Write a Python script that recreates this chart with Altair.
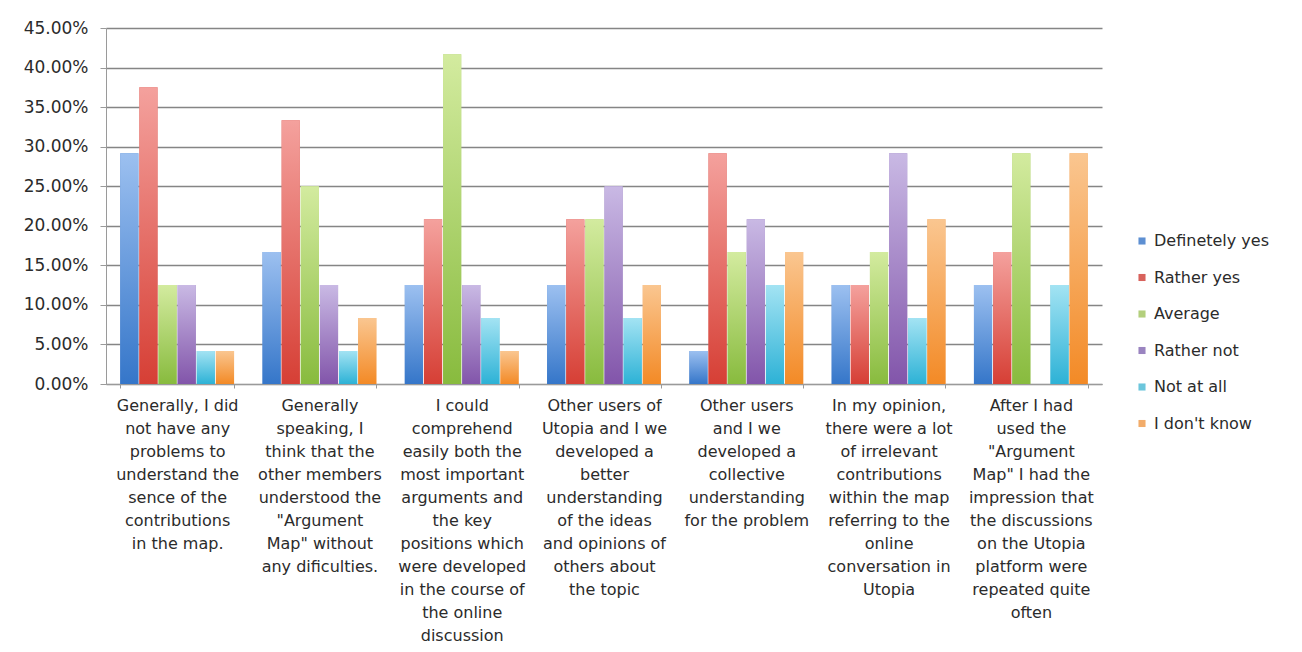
import altair as alt
import pandas as pd

categories = [
    "Generally, I did\nnot have any\nproblems to\nunderstand the\nsence of the\ncontributions\nin the map.",
    "Generally\nspeaking, I\nthink that the\nother members\nunderstood the\n\"Argument\nMap\" without\nany dificulties.",
    "I could\ncomprehend\neasily both the\nmost important\narguments and\nthe key\npositions which\nwere developed\nin the course of\nthe online\ndiscussion",
    "Other users of\nUtopia and I we\ndeveloped a\nbetter\nunderstanding\nof the ideas\nand opinions of\nothers about\nthe topic",
    "Other users\nand I we\ndeveloped a\ncollective\nunderstanding\nfor the problem",
    "In my opinion,\nthere were a lot\nof irrelevant\ncontributions\nwithin the map\nreferring to the\nonline\nconversation in\nUtopia",
    "After I had\nused the\n\"Argument\nMap\" I had the\nimpression that\nthe discussions\non the Utopia\nplatform were\nrepeated quite\noften",
]
series = ["Definetely yes", "Rather yes", "Average", "Rather not", "Not at all", "I don't know"]

definetely_yes = [0.2917, 0.1667, 0.125, 0.125, 0.0417, 0.125, 0.125]
rather_yes = [0.375, 0.3333, 0.2083, 0.2083, 0.2917, 0.125, 0.1667]
average = [0.125, 0.25, 0.4167, 0.2083, 0.1667, 0.1667, 0.2917]
rather_not = [0.125, 0.125, 0.125, 0.25, 0.2083, 0.2917, 0.0]
not_at_all = [0.0417, 0.0417, 0.0833, 0.0833, 0.125, 0.0833, 0.125]
dont_know = [0.0417, 0.0833, 0.0417, 0.125, 0.1667, 0.2083, 0.2917]

y_ticks = [0.0, 0.05, 0.10, 0.15, 0.20, 0.25, 0.30, 0.35, 0.40, 0.45]

legend_colors = ["#5d8fd2", "#d8625c", "#b3cf7c", "#9a84c0", "#6cc6dc", "#f2ac6a"]
gradient_top = ["#9cc0f0", "#f4a19d", "#d3eb9f", "#c9b9e4", "#a3e3f3", "#fac690"]
gradient_bottom = ["#3576c9", "#d63f35", "#88bb3e", "#8255aa", "#2db2d6", "#f38a26"]

values = [definetely_yes, rather_yes, average, rather_not, not_at_all, dont_know]
rows = []
for s, vals in zip(series, values):
    for q, v in zip(categories, vals):
        rows.append({"question": q, "series": s, "value": v})
df = pd.DataFrame(rows)

FONT = "DejaVu Sans"
TEXT = "#2b2b2b"

x_enc = alt.X(
    "question:N",
    sort=categories,
    scale=alt.Scale(paddingInner=0.2, paddingOuter=0.1),
    axis=alt.Axis(
        title=None,
        labelAngle=0,
        labelExpr="split(datum.label, '\\n')",
        labelLineHeight=23,
        labelFontSize=16,
        labelFont=FONT,
        labelColor=TEXT,
        labelLimit=400,
        labelOverlap=False,
        labelPadding=9,
        labelAlign="center",
        labelBaseline="top",
        tickBand="extent",
        tickSize=4,
        tickColor="#9a9a9a",
        domainColor="#9a9a9a",
        grid=False,
    ),
)
xoff_enc = alt.XOffset("series:N", sort=series, scale=alt.Scale(domain=series, paddingInner=0.05))
y_enc = alt.Y(
    "value:Q",
    scale=alt.Scale(domain=[0, 0.45], nice=False, zero=True),
    axis=alt.Axis(
        title=None,
        values=y_ticks,
        format=".2%",
        labelFontSize=17,
        labelFont=FONT,
        labelColor=TEXT,
        labelPadding=12,
        tickSize=6,
        tickColor="#9a9a9a",
        domainColor="#9a9a9a",
        grid=True,
        gridColor="#858585",
        gridWidth=1.4,
    ),
)

base = alt.Chart(df).mark_bar().encode(
    x=x_enc,
    xOffset=xoff_enc,
    y=y_enc,
    color=alt.Color(
        "series:N",
        sort=series,
        scale=alt.Scale(domain=series, range=legend_colors),
        legend=alt.Legend(
            title=None,
            orient="none",
            legendX=1028,
            legendY=205,
            symbolType="square",
            symbolSize=50,
            symbolStrokeWidth=0,
            labelFontSize=16,
            labelFont=FONT,
            labelColor=TEXT,
            rowPadding=20.5,
            labelOffset=4,
        ),
    ),
)

layers = [base]
for s, c1, c2 in zip(series, gradient_top, gradient_bottom):
    grad = alt.Gradient(
        gradient="linear",
        x1=0, y1=0, x2=0, y2=1,
        stops=[alt.GradientStop(color=c1, offset=0), alt.GradientStop(color=c2, offset=1)],
    )
    layers.append(
        alt.Chart(df)
        .transform_filter(alt.datum.series == s)
        .mark_bar(color=grad)
        .encode(x=x_enc, xOffset=xoff_enc, y=y_enc)
    )

chart = (
    alt.layer(*layers)
    .properties(
        width=996,
        height=356,
        background="white",
        padding={"left": 15, "top": 11, "right": 5, "bottom": 5},
    )
    .configure_view(stroke="transparent", strokeWidth=0)
)

chart.save("out.html", embed_options={"renderer": "svg", "actions": False})
